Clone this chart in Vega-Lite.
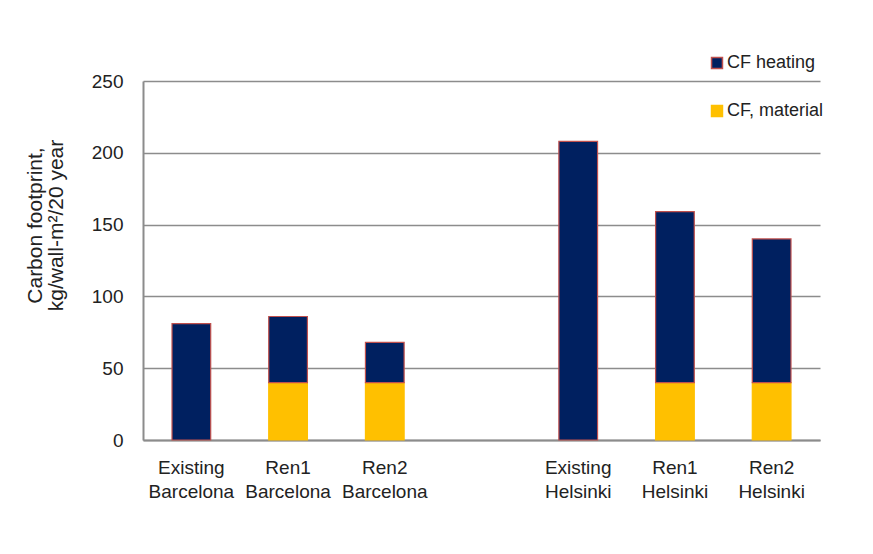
{
  "$schema": "https://vega.github.io/schema/vega-lite/v6.json",
  "autosize": {"type": "none"},
  "padding": {"left": 143, "top": 81, "right": 53, "bottom": 114},
  "width": 677,
  "height": 359,
  "background": "white",
  "config": {
    "font": "Liberation Sans",
    "view": {"stroke": null},
    "axis": {"labelFont": "Liberation Sans", "titleFont": "Liberation Sans"}
  },
  "data": {
    "values": [
      {"scenario": "Existing Barcelona", "series": "CF heating", "value": 81},
      {"scenario": "Ren1 Barcelona", "series": "CF, material", "value": 40},
      {"scenario": "Ren1 Barcelona", "series": "CF heating", "value": 46},
      {"scenario": "Ren2 Barcelona", "series": "CF, material", "value": 40},
      {"scenario": "Ren2 Barcelona", "series": "CF heating", "value": 28},
      {"scenario": "Existing Helsinki", "series": "CF heating", "value": 208},
      {"scenario": "Ren1 Helsinki", "series": "CF, material", "value": 40},
      {"scenario": "Ren1 Helsinki", "series": "CF heating", "value": 119},
      {"scenario": "Ren2 Helsinki", "series": "CF, material", "value": 40},
      {"scenario": "Ren2 Helsinki", "series": "CF heating", "value": 100}
    ]
  },
  "mark": {"type": "bar", "strokeWidth": 1.2},
  "encoding": {
    "x": {
      "field": "scenario",
      "type": "nominal",
      "scale": {
        "domain": ["Existing Barcelona", "Ren1 Barcelona", "Ren2 Barcelona", " ", "Existing Helsinki", "Ren1 Helsinki", "Ren2 Helsinki"],
        "paddingInner": 0.6,
        "paddingOuter": 0.3
      },
      "axis": {
        "title": null,
        "labelAngle": 0,
        "labelExpr": "split(datum.value, ' ')",
        "labelFontSize": 19,
        "labelColor": "#222222",
        "labelPadding": 18,
        "labelLineHeight": 24,
        "ticks": false,
        "domainColor": "#8c8c8c",
        "domainWidth": 2
      }
    },
    "y": {
      "field": "value",
      "type": "quantitative",
      "aggregate": "sum",
      "stack": "zero",
      "scale": {"domain": [0, 250]},
      "axis": {
        "values": [0, 50, 100, 150, 200, 250],
        "title": ["Carbon footprint,", "kg/wall-m²/20 year"],
        "titleFontSize": 21,
        "titleFontWeight": "normal",
        "titleColor": "#222222",
        "titleLineHeight": 21,
        "titleY": 144,
        "titlePadding": 25,
        "labelFontSize": 19,
        "labelColor": "#222222",
        "labelPadding": 20,
        "ticks": false,
        "grid": true,
        "gridColor": "#8c8c8c",
        "gridWidth": 1.5,
        "domainColor": "#8c8c8c",
        "domainWidth": 2
      }
    },
    "color": {
      "field": "series",
      "type": "nominal",
      "scale": {"domain": ["CF heating", "CF, material"], "range": ["#002060", "#FFC000"]},
      "legend": {
        "title": null,
        "orient": "none",
        "legendX": 565,
        "legendY": -27,
        "symbolType": "square",
        "symbolSize": 120,
        "symbolStrokeWidth": 1.5,
        "labelFontSize": 18,
        "labelColor": "#222222",
        "labelOffset": 1,
        "rowPadding": 30
      }
    },
    "stroke": {
      "field": "series",
      "type": "nominal",
      "scale": {"domain": ["CF heating", "CF, material"], "range": ["#C0504D", "#FFC000"]},
      "legend": null
    },
    "order": {"field": "series", "sort": "descending"}
  }
}
